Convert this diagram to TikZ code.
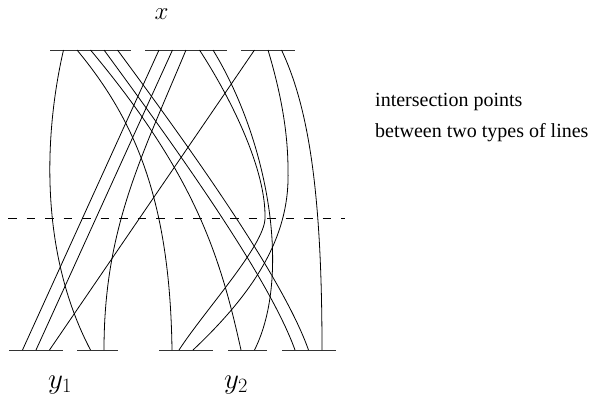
\RequirePackage{fix-cm}
\documentclass[tikz,border=0pt]{standalone}
\usepackage[no-math]{fontspec}
\setmainfont{Liberation Serif}
\usetikzlibrary{positioning}

\begin{document}
\begin{tikzpicture}[x=1pt, y=-1pt,
    wire/.style={line width=0.8pt},
    bar/.style={line width=0.8pt, black!80},
    cut/.style={line width=0.8pt, dash pattern=on 8.5pt off 10pt},
    lbl/.style={font=\fontsize{25}{30}\selectfont, inner sep=0pt, anchor=base},
    note/.style={font=\fontsize{20}{24}\selectfont, inner sep=0pt, anchor=base west}
  ]
    \useasboundingbox (0,0) rectangle (605,400);

    % Top bars (x)
    \coordinate (xa1) at (50,50);  \coordinate (xa2) at (131,50);
    \coordinate (xb1) at (145,50); \coordinate (xb2) at (227,50);
    \coordinate (xc1) at (241,50); \coordinate (xc2) at (295,50);
    \draw[bar] (xa1) -- (xa2);
    \draw[bar] (xb1) -- (xb2);
    \draw[bar] (xc1) -- (xc2);

    % Bottom bars (y1, y2)
    \coordinate (ya1) at (9,350);   \coordinate (ya2) at (63,350);
    \coordinate (yb1) at (77,350);  \coordinate (yb2) at (118,350);
    \coordinate (yc1) at (159,350); \coordinate (yc2) at (213,350);
    \coordinate (yd1) at (228,350); \coordinate (yd2) at (267,350);
    \coordinate (ye1) at (282,350); \coordinate (ye2) at (336,350);
    \draw[bar] (ya1) -- (ya2);
    \draw[bar] (yb1) -- (yb2);
    \draw[bar] (yc1) -- (yc2);
    \draw[bar] (yd1) -- (yd2);
    \draw[bar] (ye1) -- (ye2);

    % End points on the top bars
    \coordinate (t1) at (63.5,50);  \coordinate (t2) at (77,50);
    \coordinate (t3) at (90.5,50);  \coordinate (t4) at (104,50);
    \coordinate (t5) at (117.5,50); \coordinate (t6) at (159,50);
    \coordinate (t7) at (172.5,50); \coordinate (t8) at (186,50);
    \coordinate (t9) at (199.5,50); \coordinate (t10) at (213,50);
    \coordinate (t11) at (254.5,50); \coordinate (t12) at (268,50);
    \coordinate (t13) at (281.5,50);

    % End points on the bottom bars
    \coordinate (b1) at (22.5,350); \coordinate (b2) at (36,350);
    \coordinate (b3) at (49.5,350); \coordinate (b4) at (90.5,350);
    \coordinate (b5) at (104,350);  \coordinate (b6) at (172,350);
    \coordinate (b7) at (179,350);  \coordinate (b8) at (193,350);
    \coordinate (b9) at (241,350);  \coordinate (b10) at (254.5,350);
    \coordinate (b11) at (295,350); \coordinate (b12) at (308.5,350);
    \coordinate (b13) at (322,350);

    % Straight lines
    \draw[wire] (t6) -- (b1);
    \draw[wire] (t7) -- (b2);
    \draw[wire] (t11) -- (b3);

    % Curved lines
    \draw[wire] (t1) .. controls (45,130) and (38,250) .. (b4);
    \draw[wire] (t2) .. controls (135,120) and (170,200) .. (b6);
    \draw[wire] (t3) .. controls (195,175) and (220,255) .. (b9);
    \draw[wire] (t4) .. controls (170,140) and (268,275) .. (b11);
    \draw[wire] (t5) .. controls (184,140) and (282,275) .. (b12);
    \draw[wire] (t8) .. controls (140,160) and (104,230) .. (b5);
    \draw[wire] (t9) .. controls (232,100) and (266,170) .. (265,218)
                     .. controls (265,245) and (205,310) .. (b7);
    \draw[wire] (t10) .. controls (268,140) and (292,275) .. (b10);
    \draw[wire] (t12) .. controls (280,90) and (288,130) .. (288,170)
                      .. controls (290,230) and (262,285) .. (b8);
    \draw[wire] (t13) .. controls (310,110) and (322,200) .. (b13);

    % Dashed cut
    \coordinate (cl) at (8,218); \coordinate (cr) at (345,218);
    \draw[cut] (cl) -- (cr);

    % Labels
    \node[lbl] (xlab) at (161.5,19) {$x$};
    \node[lbl, font=\fontsize{29}{34}\selectfont] (y1lab) at (60,388) {$y_1$};
    \node[lbl, font=\fontsize{29}{34}\selectfont] (y2lab) at (236,388) {$y_2$};
    \node[note] (note1) at (375,106) {intersection points};
    \node[note] (note2) at (375,137) {between two types of lines};
\end{tikzpicture}
\end{document}
